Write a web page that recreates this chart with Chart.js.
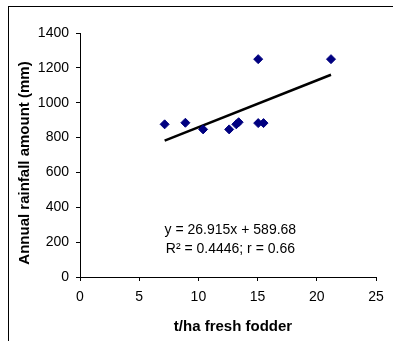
<!DOCTYPE html>
<html>
<head>
<meta charset="utf-8">
<script src="https://cdn.jsdelivr.net/npm/chart.js@4/dist/chart.umd.min.js"></script>
<style>
    html, body { margin: 0; padding: 0; background: #fff; }
    #wrap { position: relative; width: 393px; height: 341px; overflow: hidden; }
    #frame { position: absolute; left: 8px; top: 6px; width: 400px; height: 400px; border: 1px solid #000; box-sizing: border-box; }
    canvas { position: absolute; left: 0; top: 0; }
</style>
</head>
<body>
<div id="wrap">
    <div id="frame"></div>
    <canvas id="chart" width="393" height="341"></canvas>
</div>
<script>
// fresh fodder (t/ha) vs annual rainfall (mm)
const fodder = [7.15, 8.9, 10.4, 12.6, 13.2, 13.4, 15.05, 15.05, 15.5, 21.2];
const rainfall = [876, 885, 847, 847, 876, 888, 1250, 883, 883, 1250];

// linear trend shown on the chart
const slope = 26.915;
const intercept = 589.68;
const equationLines = ['y = 26.915x + 589.68', 'R\u00b2 = 0.4446; r = 0.66'];

const xTicks = [0, 5, 10, 15, 20, 25];
const yTicks = [0, 200, 400, 600, 800, 1000, 1200, 1400];

const points = fodder.map((x, i) => ({ x: x, y: rainfall[i] }));
const xMin = Math.min(...fodder);
const xMax = Math.max(...fodder);
const trend = [
    { x: xMin, y: slope * xMin + intercept },
    { x: xMax, y: slope * xMax + intercept }
];

const font = { family: 'Liberation Sans, Arial, sans-serif', size: 14 };

// draws the equation label and the axis titles
const labels = {
    id: 'labels',
    afterDraw(chart) {
        const ctx = chart.ctx;
        const xs = chart.scales.x;
        const ys = chart.scales.y;
        ctx.save();
        ctx.fillStyle = '#000';
        ctx.textAlign = 'center';
        ctx.textBaseline = 'middle';
        ctx.font = '14px "Liberation Sans", Arial, sans-serif';
        const cx = xs.getPixelForValue(12.7);
        ctx.fillText(equationLines[0], cx, ys.getPixelForValue(270));
        ctx.fillText(equationLines[1], cx, ys.getPixelForValue(160));

        ctx.font = 'bold 15px "Liberation Sans", Arial, sans-serif';
        ctx.fillText('t/ha fresh fodder', 233, 327);
        ctx.translate(25, 163);
        ctx.rotate(-Math.PI / 2);
        ctx.fillText('Annual rainfall amount (mm)', 0, 0);
        ctx.restore();
    }
};

new Chart(document.getElementById('chart').getContext('2d'), {
    type: 'scatter',
    data: {
        datasets: [{
            data: points,
            pointStyle: 'rectRot',
            pointRadius: 4.5,
            backgroundColor: '#000080',
            borderColor: '#000080',
            borderWidth: 1
        }, {
            type: 'line',
            data: trend,
            borderColor: '#000',
            borderWidth: 2.5,
            pointRadius: 0,
            fill: false
        }]
    },
    options: {
        responsive: false,
        animation: false,
        layout: { padding: { left: 0, right: 17, top: 33, bottom: 0 } },
        plugins: { legend: { display: false }, tooltip: { enabled: false } },
        scales: {
            x: {
                type: 'linear',
                min: 0,
                max: 25,
                afterBuildTicks: (s) => { s.ticks = xTicks.map(v => ({ value: v })); },
                afterFit: (s) => { s.height = 64; },
                border: { color: '#000', width: 1 },
                grid: { drawOnChartArea: false, tickLength: 4, color: '#000' },
                ticks: { color: '#000', font: font, padding: 8, callback: (v) => String(v) }
            },
            y: {
                min: 0,
                max: 1400,
                afterBuildTicks: (s) => { s.ticks = yTicks.map(v => ({ value: v })); },
                afterFit: (s) => { s.width = 80; },
                border: { color: '#000', width: 1 },
                grid: { drawOnChartArea: false, tickLength: 4, color: '#000' },
                ticks: { color: '#000', font: font, padding: 7, callback: (v) => String(v) }
            }
        }
    },
    plugins: [labels]
});
</script>
</body>
</html>
